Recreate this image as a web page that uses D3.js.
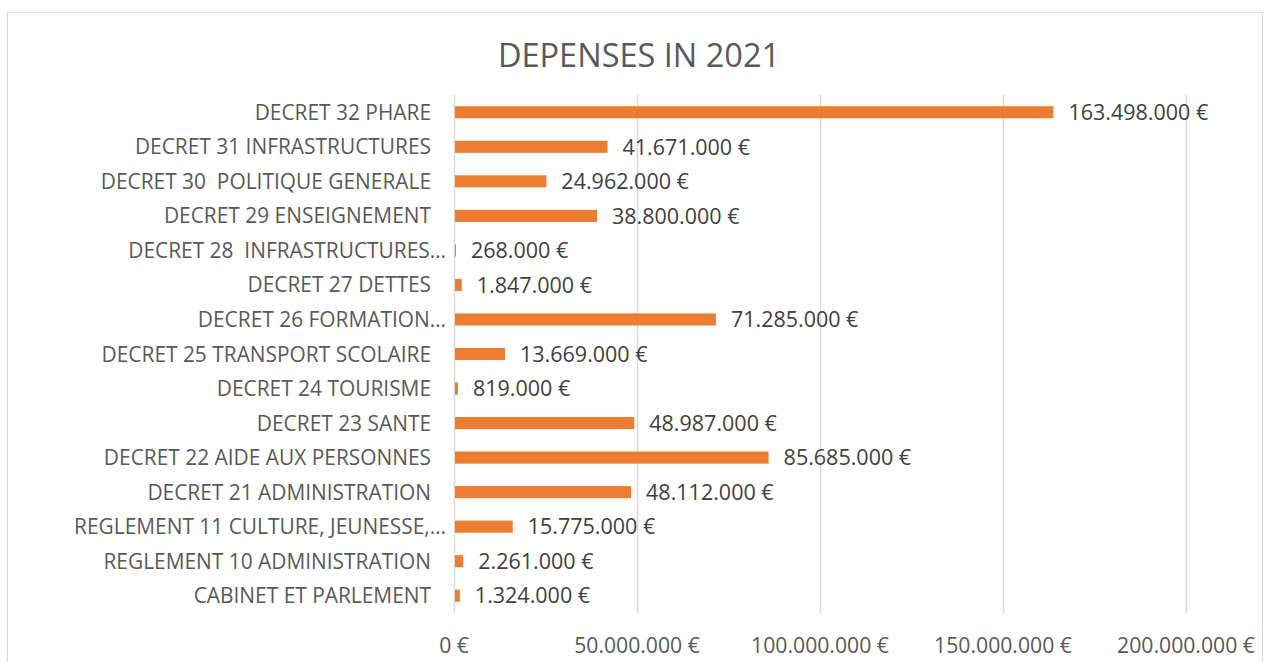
<!DOCTYPE html>
<html>
<head>
<meta charset="utf-8">
<script src="https://cdn.jsdelivr.net/npm/d3@7/dist/d3.min.js"></script>
<style>
  html, body { margin: 0; padding: 0; background: #fff; }
  svg { display: block; font-family: "Open Sans", "DejaVu Sans", sans-serif; }
  text { white-space: pre; }
</style>
</head>
<body>
<svg id="chart" width="1271" height="662"></svg>
<script>
// Spending per budget line, 2021 (top to bottom)
const categories = [
  "DECRET 32 PHARE",
  "DECRET 31 INFRASTRUCTURES",
  "DECRET 30  POLITIQUE GENERALE",
  "DECRET 29 ENSEIGNEMENT",
  "DECRET 28  INFRASTRUCTURES…",
  "DECRET 27 DETTES",
  "DECRET 26 FORMATION…",
  "DECRET 25 TRANSPORT SCOLAIRE",
  "DECRET 24 TOURISME",
  "DECRET 23 SANTE",
  "DECRET 22 AIDE AUX PERSONNES",
  "DECRET 21 ADMINISTRATION",
  "REGLEMENT 11 CULTURE, JEUNESSE,…",
  "REGLEMENT 10 ADMINISTRATION",
  "CABINET ET PARLEMENT"
];
const values = [
  163498000, 41671000, 24962000, 38800000, 268000, 1847000, 71285000,
  13669000, 819000, 48987000, 85685000, 48112000, 15775000, 2261000, 1324000
];
const xTicks = [0, 50000000, 100000000, 150000000, 200000000];
const title = "DEPENSES IN 2021";

const svg = d3.select("#chart");

// Euro formatting with dots as thousands separator
const fmt = v => d3.format(",")(v).replace(/,/g, ".") + " €";

// Chart frame
svg.append("rect")
  .attr("x", 7.5).attr("y", 12.5)
  .attr("width", 1255).attr("height", 680)
  .attr("fill", "#fff").attr("stroke", "#d9d9d9").attr("stroke-width", 1);

svg.append("text")
  .attr("x", 639).attr("y", 67)
  .attr("text-anchor", "middle")
  .attr("font-size", 32.5)
  .attr("fill", "#595959")
  .text(title);

const x = d3.scaleLinear().domain([0, 200000000]).range([454, 1186]);
const y = d3.scaleBand().domain(categories).range([95, 613]).paddingInner(0.65).paddingOuter(0.325);

// Vertical gridlines
svg.append("g").selectAll("line").data(xTicks).join("line")
  .attr("x1", d => x(d) + 0.5).attr("x2", d => x(d) + 0.5)
  .attr("y1", 95).attr("y2", 613)
  .attr("stroke", "#d9d9d9").attr("stroke-width", 1.5);

// Bars
svg.append("g").selectAll("rect").data(values).join("rect")
  .attr("x", x(0) + 1)
  .attr("y", (d, i) => y(categories[i]))
  .attr("width", d => Math.max(0, x(d) - x(0)))
  .attr("height", y.bandwidth())
  .attr("fill", "#ed7d31");

// Value labels
svg.append("g").selectAll("text").data(values).join("text")
  .attr("x", d => x(d) + 16)
  .attr("y", (d, i) => y(categories[i]) + y.bandwidth() / 2)
  .attr("dy", "0.36em")
  .attr("font-size", 21.5)
  .attr("fill", "#404040")
  .text(fmt);

// Category axis labels (truncated ones run closer to the axis)
svg.append("g").selectAll("text").data(categories).join("text")
  .attr("x", d => d.endsWith("…") ? 446 : 431)
  .attr("y", d => y(d) + y.bandwidth() / 2)
  .attr("dy", "0.36em")
  .attr("text-anchor", "end")
  .attr("font-size", 20.9)
  .attr("fill", "#595959")
  .text(d => d);

// Value axis labels
svg.append("g").selectAll("text").data(xTicks).join("text")
  .attr("x", d => x(d))
  .attr("y", 645)
  .attr("dy", "0.36em")
  .attr("text-anchor", "middle")
  .attr("font-size", 21.2)
  .attr("fill", "#595959")
  .text(fmt);
</script>
</body>
</html>
